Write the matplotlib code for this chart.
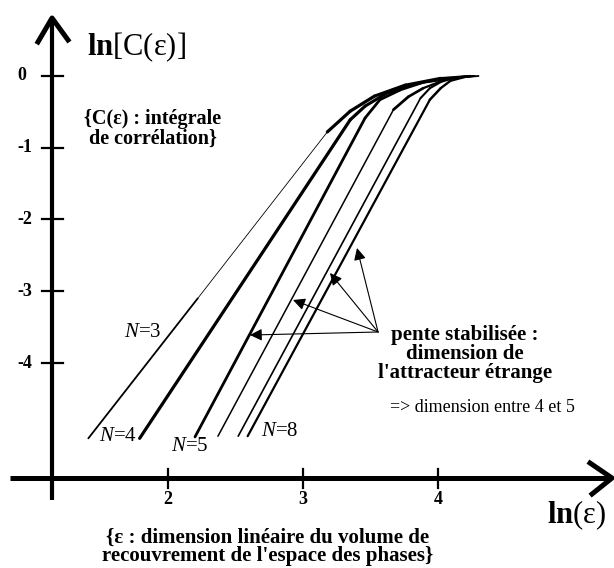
import matplotlib
matplotlib.use('Agg')
import matplotlib.pyplot as plt

plt.rcParams['font.family'] = ['Liberation Serif', 'DejaVu Serif']
plt.rcParams['mathtext.fontset'] = 'custom'
plt.rcParams['mathtext.rm'] = 'Liberation Serif'
plt.rcParams['mathtext.bf'] = 'Liberation Serif:bold'
plt.rcParams['mathtext.it'] = 'Liberation Serif:italic'

# curves: ln(eps) -> ln C(eps)
n3_x = [1.41, 2.22, 3.18, 3.35, 3.53, 3.76, 4.02, 4.24]
n3_y = [-5.05, -3.10, -0.78, -0.49, -0.28, -0.125, -0.03, 0.0]
n4_x = [1.79, 3.35, 3.46, 3.61, 3.83, 4.09, 4.24]
n4_y = [-5.05, -0.61, -0.42, -0.25, -0.11, -0.03, 0.0]
n5_x = [2.20, 3.46, 3.57, 3.72, 3.90, 4.13, 4.27]
n5_y = [-5.03, -0.585, -0.33, -0.195, -0.085, -0.03, 0.0]
n6_x = [2.37, 3.67, 3.78, 3.89, 4.07, 4.24]
n6_y = [-5.02, -0.47, -0.29, -0.17, -0.04, 0.0]
n7_x = [2.52, 3.87, 3.94, 4.02, 4.14, 4.27]
n7_y = [-5.02, -0.31, -0.17, -0.085, -0.015, 0.0]
n8_x = [2.59, 3.94, 4.02, 4.09, 4.20, 4.30]
n8_y = [-5.02, -0.33, -0.17, -0.07, -0.015, 0.0]

x_ticks = [2, 3, 4]
y_ticks = [0, -1, -2, -3, -4]
x_ticklabels = ['2', '3', '4']
y_ticklabels = ['0', '-1', '-2', '-3', '-4']

curve_labels = ['$\\mathit{N}$=3', '$\\mathit{N}$=4', '$\\mathit{N}$=5', '$\\mathit{N}$=8']
curve_label_x = [1.81, 1.63, 2.16, 2.83]
curve_label_y = [-3.58, -5.03, -5.17, -4.96]

# "pente stabilisee" arrows (tips on N=5..8)
arrow_tail = (3.556, -3.568)
arrow_tip_x = [2.607, 2.926, 3.20, 3.40]
arrow_tip_y = [-3.61, -3.122, -2.746, -2.397]

fig = plt.figure(figsize=(6.14, 5.68), dpi=100)
ax = fig.add_axes([0, 0, 1, 1])
ax.set_xlim(0.7556, 5.3037)
ax.set_ylim(-6.857, 1.059)
ax.axis('off')

# segments with the line width of each piece (the scan has uneven strokes)
curves = [(n3_x, n3_y, [1.3, 0.6, 2.3, 2.3, 2.2, 2.0, 1.6]),
          (n4_x, n4_y, [2.3, 2.3, 2.2, 2.0, 1.8, 1.5]),
          (n5_x, n5_y, [2.0, 2.0, 2.0, 1.8, 1.6, 1.4]),
          (n6_x, n6_y, [1.1, 2.0, 1.9, 1.6, 1.4]),
          (n7_x, n7_y, [1.2, 1.5, 1.5, 1.4, 1.3]),
          (n8_x, n8_y, [1.6, 1.8, 1.7, 1.5, 1.3])]
for xs, ys, widths in curves:
    for i in range(len(xs) - 1):
        ax.plot(xs[i:i + 2], ys[i:i + 2], color='black', lw=widths[i],
                solid_capstyle='round')

# axes drawn by hand, like the sketch
x_axis_y = -5.603
y_axis_x = 1.141
ax.plot([0.83, 5.28], [x_axis_y, x_axis_y], color='black', lw=3.6, solid_capstyle='butt')
ax.plot([5.126, 5.289, 5.141], [-5.394, x_axis_y, -5.826], color='black', lw=3.6)
ax.plot([y_axis_x, y_axis_x], [-5.909, 0.79], color='black', lw=3.0, solid_capstyle='butt')
ax.plot([1.037, y_axis_x, 1.259], [0.474, 0.808, 0.502], color='black', lw=3.6)

for t, lab in zip(y_ticks, y_ticklabels):
    ax.plot([1.067, 1.222], [t, t], color='black', lw=1.6)
    ax.text(0.881, t, lab, ha='left', va='center', fontsize=13, fontweight='bold')
for t, lab in zip(x_ticks, x_ticklabels):
    ax.plot([t, t], [-5.477, -5.742], color='black', lw=1.6)
    ax.text(t, -5.909, lab, ha='center', va='center', fontsize=13, fontweight='bold')

ax.text(1.40, 0.404, '$\\mathbf{ln}$[C(ε)]', ha='left', va='center', fontsize=22)
ax.text(5.03, -6.118, '$\\mathbf{ln}$(ε)', ha='center', va='center', fontsize=22)

ax.text(1.889, -0.739, '{C(ε) : intégrale\nde corrélation}', ha='center', va='center',
        fontsize=14.5, fontweight='bold', linespacing=1.0)
ax.text(4.20, -3.875, "pente stabilisée :\ndimension de\nl'attracteur étrange",
        ha='center', va='center', fontsize=15, fontweight='bold', linespacing=0.95)
ax.text(4.33, -4.627, '=> dimension entre 4 et 5', ha='center', va='center', fontsize=13)
ax.text(2.741, -6.564, "{ε : dimension linéaire du volume de\nrecouvrement de l'espace des phases}",
        ha='center', va='center', fontsize=15, fontweight='bold', linespacing=0.9)

for lab, lx, ly in zip(curve_labels, curve_label_x, curve_label_y):
    ax.text(lx, ly, lab, ha='center', va='center', fontsize=15)

for tx, ty in zip(arrow_tip_x, arrow_tip_y):
    ax.annotate('', xy=(tx, ty), xytext=arrow_tail,
                arrowprops=dict(arrowstyle='-|>', color='black', lw=0.8,
                                mutation_scale=18, shrinkA=0, shrinkB=0))

fig.savefig('out.png', dpi=100)
